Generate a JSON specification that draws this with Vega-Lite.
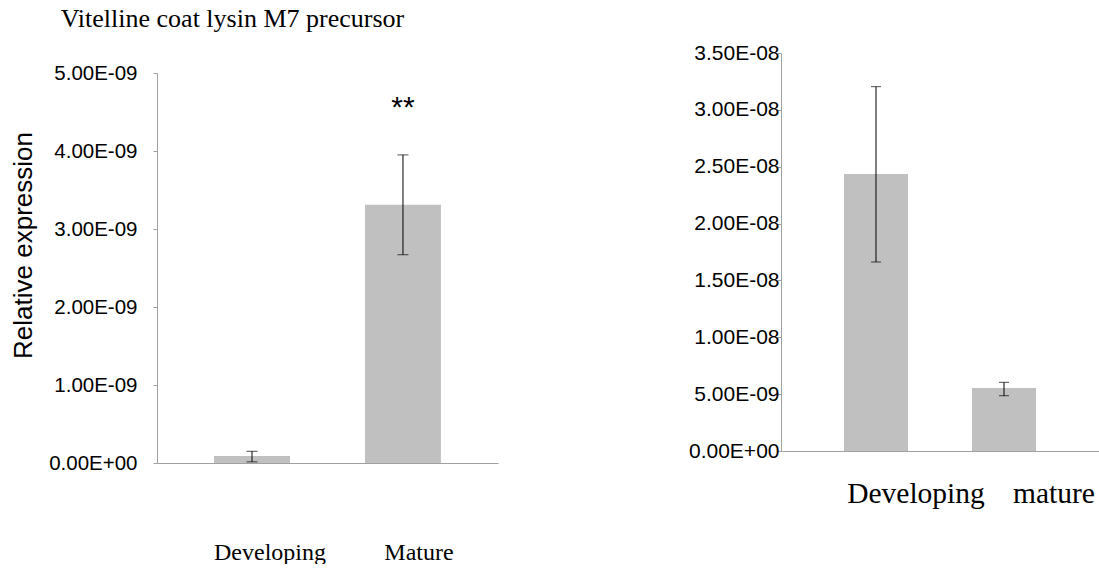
{
  "$schema": "https://vega.github.io/schema/vega-lite/v6.json",
  "background": "white",
  "padding": {"left": 10, "top": 6, "right": 0, "bottom": 0},
  "title": {"text": "Vitelline coat lysin M7 precursor", "anchor": "start", "font": "Liberation Serif", "fontSize": 26, "fontWeight": "normal", "color": "black", "dx": 50, "offset": 10},
  "datasets": {
    "left": [
      {"stage": "Developing", "value": 9e-11, "lo": 1.5e-11, "hi": 1.5e-10},
      {"stage": "Mature", "value": 3.31e-9, "lo": 2.67e-9, "hi": 3.95e-9}
    ],
    "right": [
      {"stage": "Developing", "value": 2.436e-8, "lo": 1.662e-8, "hi": 3.204e-8},
      {"stage": "mature", "value": 5.54e-9, "lo": 4.86e-9, "hi": 6.04e-9}
    ],
    "note": [{"stage": "Mature", "y": 4.44e-9, "label": "**"}]
  },
  "config": {"view": {"stroke": null}, "axis": {"grid": false, "domainColor": "#a0a0a0", "tickColor": "#a0a0a0", "labelColor": "black", "titleColor": "black"}},
  "spacing": 190,
  "hconcat": [
    {
      "spacing": 0,
      "vconcat": [
        {
          "data": {"values": [{"s": " "}]},
          "width": 10,
          "height": 9,
          "mark": {"type": "text"},
          "encoding": {"text": {"field": "s", "type": "nominal"}}
        },
        {
          "width": 341,
          "height": 390,
          "data": {"name": "left"},
          "encoding": {
            "x": {"field": "stage", "type": "nominal", "sort": null,
              "scale": {"domain": ["Developing", "Mature"], "paddingInner": 0.497, "paddingOuter": 0.378},
              "axis": {"title": null, "labelAngle": 0, "labelFont": "Liberation Serif", "labelFontSize": 24, "ticks": false, "labelPadding": 77, "labelOffset": {"condition": {"test": "datum.value == 'Mature'", "value": 16}, "value": 18}}}
          },
          "layer": [
            {"mark": {"type": "bar", "color": "#c0c0c0"},
             "encoding": {"y": {"field": "value", "type": "quantitative", "scale": {"domain": [0, 5e-9], "nice": false},
               "axis": {"values": [0, 1e-9, 2e-9, 3e-9, 4e-9, 5e-9], "labelExpr": "datum.value == 0 ? '0.00E+00' : replace(format(datum.value, '.2e'), 'e-', 'E-0')", "labelFont": "Liberation Sans", "labelFontSize": 20.5, "tickSize": 4, "labelPadding": 16, "title": "Relative expression", "titleFont": "Liberation Sans", "titleFontSize": 26, "titleFontWeight": "normal", "titlePadding": 12, "titleAlign": "center", "titleY": 172}}}},
            {"mark": {"type": "rule", "color": "black", "strokeWidth": 1},
             "encoding": {"y": {"field": "lo", "type": "quantitative"}, "y2": {"field": "hi"}}},
            {"mark": {"type": "tick", "color": "black", "size": 11, "thickness": 1},
             "encoding": {"y": {"field": "lo", "type": "quantitative"}}},
            {"mark": {"type": "tick", "color": "black", "size": 11, "thickness": 1},
             "encoding": {"y": {"field": "hi", "type": "quantitative"}}},
            {"data": {"name": "note"},
             "mark": {"type": "text", "font": "Liberation Sans", "fontSize": 30, "baseline": "alphabetic", "color": "black"},
             "encoding": {"y": {"field": "y", "type": "quantitative"}, "text": {"field": "label", "type": "nominal"}}}
          ]
        }
      ]
    },
    {
      "width": 318,
      "height": 398,
      "data": {"name": "right"},
      "encoding": {
        "x": {"field": "stage", "type": "nominal", "sort": null,
          "scale": {"domain": ["Developing", "mature"], "paddingInner": 0.5, "paddingOuter": 0.492},
          "axis": {"title": null, "labelAngle": 0, "labelFont": "Liberation Serif", "labelFontSize": 29.5, "ticks": false, "labelPadding": 28, "labelOffset": {"condition": {"test": "datum.value == 'mature'", "value": 50}, "value": 40}}}
      },
      "layer": [
        {"mark": {"type": "bar", "color": "#c0c0c0"},
         "encoding": {"y": {"field": "value", "type": "quantitative", "scale": {"domain": [0, 3.5e-8], "nice": false},
           "axis": {"values": [0, 5e-9, 1e-8, 1.5e-8, 2e-8, 2.5e-8, 3e-8, 3.5e-8], "labelExpr": "datum.value == 0 ? '0.00E+00' : replace(format(datum.value, '.2e'), 'e-', 'E-0')", "labelFont": "Liberation Sans", "labelFontSize": 21, "tickSize": 4, "labelPadding": -2, "title": null}}}},
        {"mark": {"type": "rule", "color": "black", "strokeWidth": 1},
         "encoding": {"y": {"field": "lo", "type": "quantitative"}, "y2": {"field": "hi"}}},
        {"mark": {"type": "tick", "color": "black", "size": 10, "thickness": 1},
         "encoding": {"y": {"field": "lo", "type": "quantitative"}}},
        {"mark": {"type": "tick", "color": "black", "size": 10, "thickness": 1},
         "encoding": {"y": {"field": "hi", "type": "quantitative"}}}
      ]
    }
  ]
}
